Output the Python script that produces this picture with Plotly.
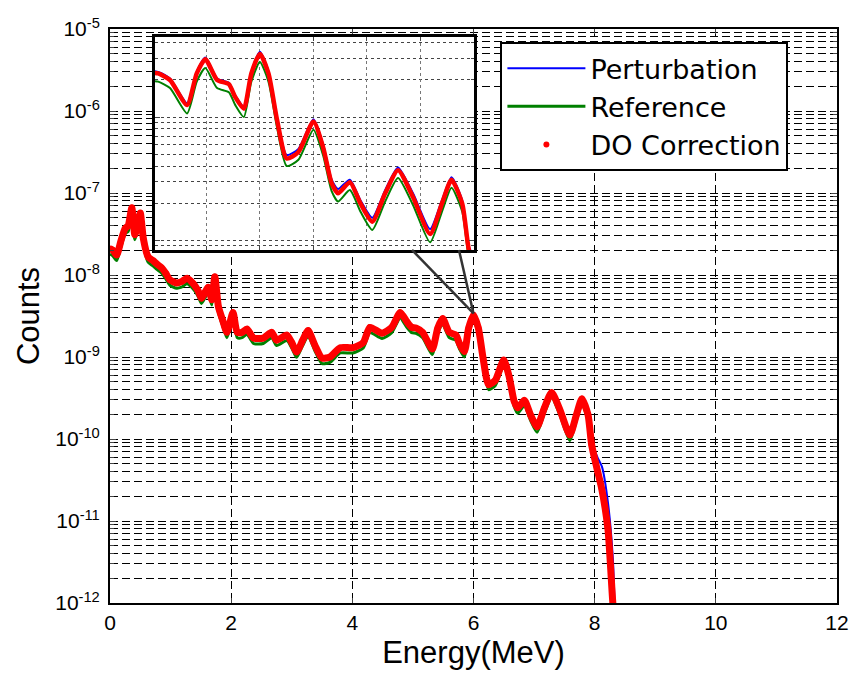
import plotly.graph_objects as go

# energy grid (MeV) and spectra
energy = [0.00, 0.05, 0.11, 0.18, 0.25, 0.30, 0.36, 0.41, 0.46, 0.50, 0.55, 0.63, 0.71, 0.78, 0.85, 0.92,
          0.99, 1.10, 1.18, 1.27, 1.37, 1.45, 1.51, 1.57, 1.62, 1.68, 1.73, 1.79, 1.86, 1.93, 2.03, 2.10,
          2.18, 2.26, 2.37, 2.53, 2.67, 2.75, 2.92, 3.00, 3.08, 3.18, 3.27, 3.38, 3.50, 3.63, 3.80, 4.01,
          4.18, 4.29, 4.49, 4.65, 4.79, 4.90, 4.98, 5.05, 5.16, 5.32, 5.41, 5.49, 5.60, 5.71, 5.77, 5.85,
          5.92, 6.00, 6.08, 6.16, 6.25, 6.36, 6.50, 6.59, 6.67, 6.73, 6.84, 6.94, 7.05, 7.17, 7.29, 7.43,
          7.59, 7.70, 7.79, 7.89, 7.95, 8.05, 8.12, 8.22, 8.30, 8.33]

do_correction = [2.1e-8, 2.0e-8, 1.75e-8, 2.6e-8, 3.7e-8, 4.0e-8, 6.6e-8, 3.1e-8, 4.2e-8, 5.7e-8, 2.8e-8, 1.66e-8,
                 1.5e-8, 1.35e-8, 1.23e-8, 1.05e-8, 8.7e-9, 8.0e-9, 8.3e-9, 9.1e-9, 7.9e-9, 6.5e-9, 5.2e-9, 6.2e-9,
                 7.1e-9, 5.0e-9, 9.5e-9, 4.1e-9, 2.8e-9, 2.0e-9, 3.5e-9, 2.0e-9, 2.0e-9, 2.2e-9, 1.7e-9, 1.7e-9,
                 2.0e-9, 1.6e-9, 1.85e-9, 1.5e-9, 1.15e-9, 1.6e-9, 2.1e-9, 1.4e-9, 9.7e-10, 1.0e-9, 1.3e-9, 1.3e-9,
                 1.5e-9, 2.3e-9, 1.95e-9, 2.3e-9, 3.5e-9, 2.7e-9, 2.3e-9, 2.26e-9, 2.0e-9, 1.25e-9, 2.26e-9, 2.95e-9,
                 2.0e-9, 1.85e-9, 1.45e-9, 1.17e-9, 2.26e-9, 3.26e-9, 2.26e-9, 9.5e-10, 4.6e-10, 5.2e-10, 9.2e-10,
                 5.7e-10, 2.9e-10, 2.4e-10, 2.96e-10, 1.98e-10, 1.41e-10, 2.4e-10, 3.7e-10, 2.24e-10, 1.12e-10,
                 1.98e-10, 3.1e-10, 1.98e-10, 8.5e-11, 4.0e-11, 2.4e-11, 7.8e-12, 1.0e-12, 6e-13]

reference = [1.8e-8, 1.7e-8, 1.5e-8, 2.2e-8, 3.2e-8, 3.4e-8, 5.6e-8, 2.7e-8, 3.6e-8, 4.9e-8, 2.4e-8, 1.43e-8,
             1.29e-8, 1.16e-8, 1.06e-8, 9.0e-9, 7.5e-9, 6.9e-9, 7.1e-9, 7.8e-9, 6.8e-9, 5.6e-9, 4.5e-9, 5.3e-9,
             6.1e-9, 4.3e-9, 8.2e-9, 3.5e-9, 2.4e-9, 1.72e-9, 3.0e-9, 1.72e-9, 1.72e-9, 1.9e-9, 1.46e-9, 1.46e-9,
             1.72e-9, 1.38e-9, 1.59e-9, 1.29e-9, 9.9e-10, 1.38e-9, 1.8e-9, 1.2e-9, 8.3e-10, 8.6e-10, 1.12e-9, 1.12e-9,
             1.29e-9, 1.98e-9, 1.68e-9, 1.98e-9, 3.0e-9, 2.3e-9, 1.98e-9, 1.94e-9, 1.72e-9, 1.07e-9, 1.94e-9, 2.5e-9,
             1.72e-9, 1.59e-9, 1.25e-9, 1.0e-9, 1.94e-9, 2.8e-9, 1.94e-9, 8.2e-10, 4.0e-10, 4.5e-10, 7.9e-10,
             4.9e-10, 2.5e-10, 2.06e-10, 2.55e-10, 1.7e-10, 1.21e-10, 2.06e-10, 3.2e-10, 1.93e-10, 9.6e-11,
             1.7e-10, 2.67e-10, 1.7e-10, 7.3e-11, 3.4e-11, 2.0e-11, 6.7e-12, 8.6e-13, 5e-13]

perturbation = [2.15e-8, 2.05e-8, 1.8e-8, 2.7e-8, 3.8e-8, 4.1e-8, 6.8e-8, 3.2e-8, 4.3e-8, 5.9e-8, 2.9e-8, 1.72e-8,
                1.55e-8, 1.4e-8, 1.27e-8, 1.09e-8, 9.0e-9, 8.3e-9, 8.6e-9, 9.4e-9, 8.2e-9, 6.7e-9, 5.4e-9, 6.4e-9,
                7.3e-9, 5.2e-9, 9.8e-9, 4.3e-9, 2.9e-9, 2.08e-9, 3.6e-9, 2.08e-9, 2.08e-9, 2.3e-9, 1.77e-9, 1.77e-9,
                2.08e-9, 1.66e-9, 1.92e-9, 1.56e-9, 1.2e-9, 1.66e-9, 2.18e-9, 1.46e-9, 1.01e-9, 1.04e-9, 1.35e-9, 1.35e-9,
                1.56e-9, 2.4e-9, 2.03e-9, 2.4e-9, 3.6e-9, 2.8e-9, 2.4e-9, 2.33e-9, 2.06e-9, 1.3e-9, 2.33e-9, 3.05e-9,
                2.06e-9, 1.9e-9, 1.5e-9, 1.22e-9, 2.33e-9, 3.4e-9, 2.35e-9, 9.9e-10, 4.9e-10, 5.5e-10, 9.6e-10,
                6.0e-10, 3.1e-10, 2.6e-10, 3.1e-10, 2.1e-10, 1.52e-10, 2.55e-10, 3.9e-10, 2.4e-10, 1.23e-10,
                2.1e-10, 3.25e-10, 2.1e-10, 9.0e-11, 5.9e-11, 4.6e-11, 1.66e-11, 3.5e-12, 9e-13]

x_ticks = [0, 2, 4, 6, 8, 10, 12]
y_decades = [1e-12, 1e-11, 1e-10, 1e-9, 1e-8, 1e-7, 1e-6, 1e-5]
y_ticktext = ["10<sup>-12</sup>", "10<sup>-11</sup>", "10<sup>-10</sup>", "10<sup>-9</sup>",
              "10<sup>-8</sup>", "10<sup>-7</sup>", "10<sup>-6</sup>", "10<sup>-5</sup>"]

minor_vals = [m * 10.0 ** e for e in range(-12, -5) for m in range(2, 10)]
inset_minor = [m * 10.0 ** e for e in range(-11, -8) for m in range(2, 10)]

BLUE = "#0000ff"
GREEN = "#008000"
RED = "#ff0000"
FONT = "Liberation Sans, Arial, sans-serif"
spl = dict(shape="spline", smoothing=0.6)

fig = go.Figure()

# main axes
fig.add_trace(go.Scatter(x=energy, y=perturbation, mode="lines", name="Perturbation",
                         line=dict(color=BLUE, width=2, **spl)))
fig.add_trace(go.Scatter(x=energy, y=reference, mode="lines", name="Reference",
                         line=dict(color=GREEN, width=3, **spl)))
fig.add_trace(go.Scatter(x=energy, y=do_correction, mode="lines", showlegend=False,
                         line=dict(color=RED, width=7, **spl)))
fig.add_trace(go.Scatter(x=energy, y=do_correction, mode="markers", name="DO Correction",
                         marker=dict(color=RED, size=6)))

# inset
fig.add_trace(go.Scatter(x=energy, y=perturbation, mode="lines", showlegend=False,
                         line=dict(color=BLUE, width=2, **spl), xaxis="x2", yaxis="y2"))
fig.add_trace(go.Scatter(x=energy, y=reference, mode="lines", showlegend=False,
                         line=dict(color=GREEN, width=2, **spl), xaxis="x2", yaxis="y2"))
fig.add_trace(go.Scatter(x=energy, y=do_correction, mode="lines", showlegend=False,
                         line=dict(color=RED, width=4.5, **spl), xaxis="x2", yaxis="y2"))

dash = "8px,4px"

fig.update_layout(
    width=852, height=680,
    margin=dict(l=110, r=15, t=29, b=77),
    paper_bgcolor="white", plot_bgcolor="white",
    font=dict(family=FONT, color="black", size=21),
    showlegend=True,
    legend=dict(x=0.537, y=0.977, xanchor="left", yanchor="top",
                bgcolor="white", bordercolor="black", borderwidth=2,
                font=dict(size=27, family="DejaVu Sans, sans-serif"),
                itemwidth=78, tracegroupgap=0),
    xaxis=dict(range=[0, 12], tickvals=x_ticks, ticks="inside", ticklen=5,
               ticklabeloverflow="allow",
               showline=True, linecolor="black", linewidth=2, mirror="ticks",
               showgrid=True, gridcolor="black", griddash=dash, gridwidth=1,
               zeroline=False, domain=[0, 1], automargin=False,
               title=dict(text="Energy(MeV)", font=dict(size=31), standoff=8)),
    yaxis=dict(type="log", range=[-12, -5], tickvals=y_decades, ticktext=y_ticktext,
               ticks="inside", ticklen=6, ticklabelstandoff=4,
               showline=True, linecolor="black", linewidth=2, mirror="ticks",
               showgrid=True, gridcolor="black", griddash=dash, gridwidth=1,
               minor=dict(tickvals=minor_vals, ticks="inside", ticklen=4,
                          showgrid=True, gridcolor="black", griddash=dash, gridwidth=1),
               domain=[0, 1], automargin=False,
               title=dict(text="Counts", font=dict(size=31), standoff=6)),
    xaxis2=dict(anchor="y2", domain=[0.0619, 0.5007], range=[5.02, 8.0], dtick=0.5,
                showticklabels=False, ticks="inside", ticklen=4,
                showline=True, linecolor="black", linewidth=3, mirror="ticks",
                showgrid=True, gridcolor="#777777", griddash="dot", gridwidth=1, zeroline=False),
    yaxis2=dict(anchor="x2", type="log", domain=[0.615, 0.986], range=[-10.08, -8.35],
                tickvals=[1e-10, 1e-9], showticklabels=False, ticks="inside", ticklen=5,
                showline=True, linecolor="black", linewidth=3, mirror="ticks",
                showgrid=True, gridcolor="#444444", griddash="dot", gridwidth=1,
                minor=dict(tickvals=inset_minor, ticks="inside", ticklen=3,
                           showgrid=True, gridcolor="#444444", griddash="dot", gridwidth=1)),
)

# connector lines from the inset to the 6 MeV peak
for x_start in [4.985, 5.76]:
    fig.add_shape(type="line", xref="x", yref="y", x0=x_start, y0=2.02e-8, x1=6.0, y1=3.4e-9,
                  line=dict(color="#333333", width=2.5), layer="above")

# drop the default body margin so the figure fills the window exactly
fig.write_html("out.html", config={"displayModeBar": False},
               post_script="document.body.style.margin='0';")
